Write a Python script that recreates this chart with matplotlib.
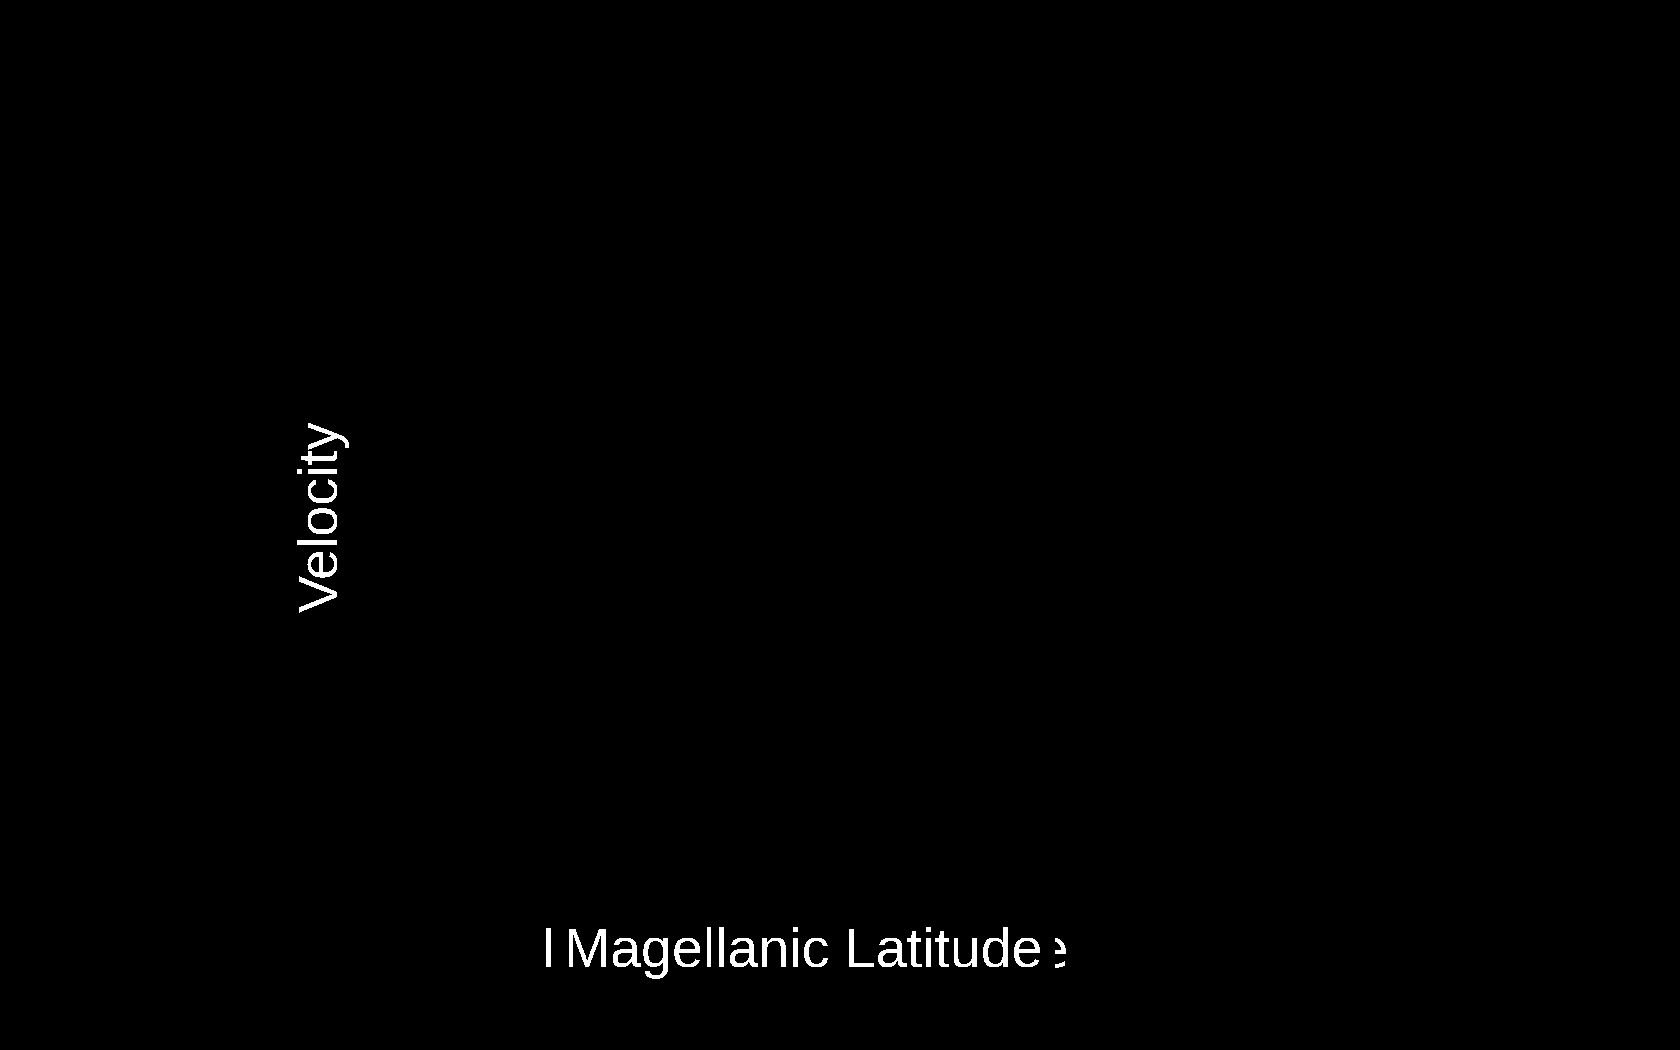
import matplotlib
matplotlib.use("Agg")
import matplotlib.pyplot as plt

plt.rcParams["text.antialiased"] = False

# Chart content (no visible data marks in the reference)
x_label = "Magellanic Latitude"
y_label = "Velocity"
latitude = []
velocity = []

fig = plt.figure(figsize=(16.8, 10.5), dpi=100, facecolor="black")
ax = fig.add_axes([0.25, 0.18, 0.5, 0.7], facecolor="black")
ax.scatter(latitude, velocity, color="black")
ax.set_xticks([])
ax.set_yticks([])
for s in ax.spines.values():
    s.set_visible(False)

# back (wider) copy of the x label, mostly hidden
fig.text(0.4792, 0.079, x_label, color="white", fontsize=38.8,
         family="DejaVu Sans", ha="center", va="baseline", zorder=5)
# front x label with black box covering the back copy
fig.text(0.478, 0.079, x_label, color="white", fontsize=40,
         family="Liberation Sans", ha="center", va="baseline", zorder=6,
         bbox=dict(facecolor="black", edgecolor="none", pad=9))

fig.text(0.1925, 0.508, y_label, color="white", fontsize=40,
         family="Liberation Sans", ha="center", va="center", rotation=90)

fig.savefig("out.png", dpi=100, facecolor="black")
